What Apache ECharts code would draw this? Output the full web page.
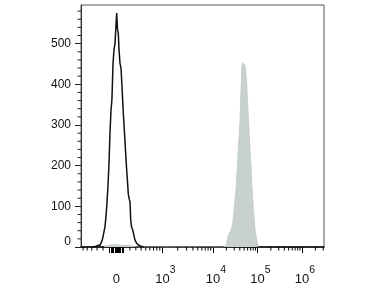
<!DOCTYPE html>
<html>
<head>
<meta charset="utf-8">
<script src="https://cdn.jsdelivr.net/npm/echarts@6/dist/echarts.min.js"></script>
<style>html,body{margin:0;padding:0;background:#fff}#c{width:382px;height:286px}</style>
</head>
<body>
<div id="c"></div>
<script>
// Histogram bins: channel position (display units, decades) and counts
const blackChannels = [1.30,1.33,1.37,1.416,1.438,1.461,1.483,1.506,1.528,1.551,1.573,1.596,1.618,1.640,1.663,1.685,1.708,1.730,1.753,1.775,1.798,1.820,1.836,1.854,1.872,1.888,1.910,1.933,1.955,1.984,2.011,2.034,2.056,2.079,2.097,2.119,2.135,2.151,2.169,2.196,2.247,2.28,2.321,2.36,2.398,2.45];
const blackCounts   = [0,1,2,4,2,4,8,15,25,38,50,76,110,150,205,280,335,365,450,485,500,545,575,535,525,485,452,440,395,330,282,237,197,160,130,117,112,66,50,42,17,10,5,3,1,0];

const grayChannels = [1.55,1.60,1.70,1.80,1.90,2.00,2.10,2.20,2.28,
  4.247,4.270,4.292,4.321,4.344,4.382,4.416,4.443,4.472,4.494,4.517,4.546,4.569,4.591,4.607,4.622,4.645,4.663,4.681,4.703,4.719,4.742,4.757,4.775,4.793,4.813,4.831,4.854,4.870,4.888,4.906,4.926,4.944,4.966,4.982,5.000,5.018,5.034];
const grayCounts   = [0,3,5,6,5,4,4,2,0,
  0,1,4,17,29,37,45,59,90,116,142,197,246,281,312,362,436,452,456,454,447,422,404,362,322,282,239,201,158,126,92,70,42,30,17,8,2,0];

// Axis ticks (raw fluorescence values) and labels
const xMajorValues = [0, 1e3, 1e4, 1e5, 1e6];
const xMajorLabels = ['0', '3', '4', '5', '6'];
const xZeroCluster = [-100,-80,-60,-40,-20,-10,10,20,40,60,80,100];
const xMinorValues = [-700,-600,-500,-400,-300,-200,
  200,300,400,500,600,700,800,900,
  2e3,3e3,4e3,5e3,6e3,7e3,8e3,9e3,
  2e4,3e4,4e4,5e4,6e4,7e4,8e4,9e4,
  2e5,3e5,4e5,5e5,6e5,7e5,8e5,9e5,
  2e6,3e6];
const yMajorValues = [0,100,200,300,400,500];
const yMinorValues = [20,40,60,80,120,140,160,180,220,240,260,280,320,340,360,380,420,440,460,480,520,540,560,580];

const X_MIN = 1.034, X_MAX = 6.494, Y_MAX = 595;

// biexponential-like display transform (raw value -> display units)
function toT(v) {
  if (v >= 1e4) return Math.log10(v);
  if (v >= 1e3) return 2.865 + (Math.log10(v) - 3) * 1.135;
  return 1.831 + Math.asinh(v / 400) * 0.628;
}
const inRange = t => t >= X_MIN && t <= X_MAX;
const xMajorT = xMajorValues.map(toT);
const labelMap = {};
xMajorT.forEach((t, i) => { labelMap[t.toFixed(4)] = xMajorLabels[i]; });
const xMajorTickT = xMajorT.concat(xZeroCluster.map(toT)).filter(inRange);
const xMinorTickT = xMinorValues.map(toT).filter(inRange);

const FONT = 'Liberation Sans, Arial, sans-serif';
const chart = echarts.init(document.getElementById('c'), null, {renderer: 'canvas'});

// minor ticks drawn through the axis scales
function minorTickX(params, api) {
  const p = api.coord([api.value(0), 0]);
  return {type: 'line', shape: {x1: p[0], y1: p[1], x2: p[0], y2: p[1] + 3.5},
          style: {stroke: '#000', lineWidth: 1}, silent: true};
}
function minorTickY(params, api) {
  const p = api.coord([X_MIN, api.value(1)]);
  return {type: 'line', shape: {x1: p[0] - 3.5, y1: p[1], x2: p[0], y2: p[1]},
          style: {stroke: '#222', lineWidth: 1}, silent: true};
}

chart.setOption({
  animation: false,
  backgroundColor: '#fff',
  grid: {left: 81, right: 58, top: 5, bottom: 39, show: true, borderColor: '#555', borderWidth: 1, outerBoundsMode: 'none'},
  xAxis: {
    type: 'value', min: X_MIN, max: X_MAX, position: 'bottom',
    axisLine: {show: true, onZero: false, lineStyle: {color: '#000', width: 1.5}},
    axisTick: {show: true, length: 6, lineStyle: {color: '#000', width: 1}, customValues: xMajorTickT},
    axisLabel: {
      show: true, margin: 25, customValues: xMajorT,
      fontFamily: FONT, color: '#111',
      formatter: function (val) {
        const lab = labelMap[Number(val).toFixed(4)];
        if (lab === undefined) return '';
        if (lab === '0') return '{z|0}';
        return '{n|10}{s|' + lab + '}';
      },
      rich: {
        z: {fontFamily: FONT, fontSize: 13, color: '#111', lineHeight: 14, padding: [8, 0, 0, 0], verticalAlign: 'bottom'},
        n: {fontFamily: FONT, fontSize: 13, color: '#111', lineHeight: 14, padding: [0, 0, 0, 6], verticalAlign: 'bottom'},
        s: {fontFamily: FONT, fontSize: 10.5, color: '#111', lineHeight: 12, padding: [0, 0, 10, 0], verticalAlign: 'bottom'}
      }
    },
    splitLine: {show: false}
  },
  yAxis: {
    type: 'value', min: 0, max: Y_MAX, position: 'left',
    axisLine: {show: true, onZero: false, lineStyle: {color: '#333', width: 1}},
    axisTick: {show: true, length: 6, lineStyle: {color: '#222', width: 1}, customValues: yMajorValues},
    axisLabel: {
      show: true, margin: 10, customValues: yMajorValues,
      fontFamily: FONT, fontSize: 12, color: '#111',
      formatter: function (val) { return val === 0 ? '{z|0}' : String(val); },
      rich: {z: {fontFamily: FONT, fontSize: 12, color: '#111', padding: [0, 0, 10, 0]}}
    },
    splitLine: {show: false}
  },
  series: [{
    type: 'line', name: 'stained',
    data: grayChannels.map((c, i) => [c, grayCounts[i]]),
    showSymbol: false, symbol: 'none',
    lineStyle: {color: '#bfc9c6', width: 0.8},
    areaStyle: {color: '#c8d1cf', opacity: 1},
    z: 2
  }, {
    type: 'line', name: 'control',
    data: blackChannels.map((c, i) => [c, blackCounts[i]]),
    showSymbol: false, symbol: 'none',
    lineStyle: {color: '#111', width: 1.5},
    z: 3
  }, {
    type: 'custom', name: 'xMinorTicks', clip: false, silent: true,
    renderItem: minorTickX,
    data: xMinorTickT.map(t => [t, 0]),
    z: 4
  }, {
    type: 'custom', name: 'yMinorTicks', clip: false, silent: true,
    renderItem: minorTickY,
    data: yMinorValues.map(v => [X_MIN, v]),
    z: 4
  }]
});
</script>
</body>
</html>
